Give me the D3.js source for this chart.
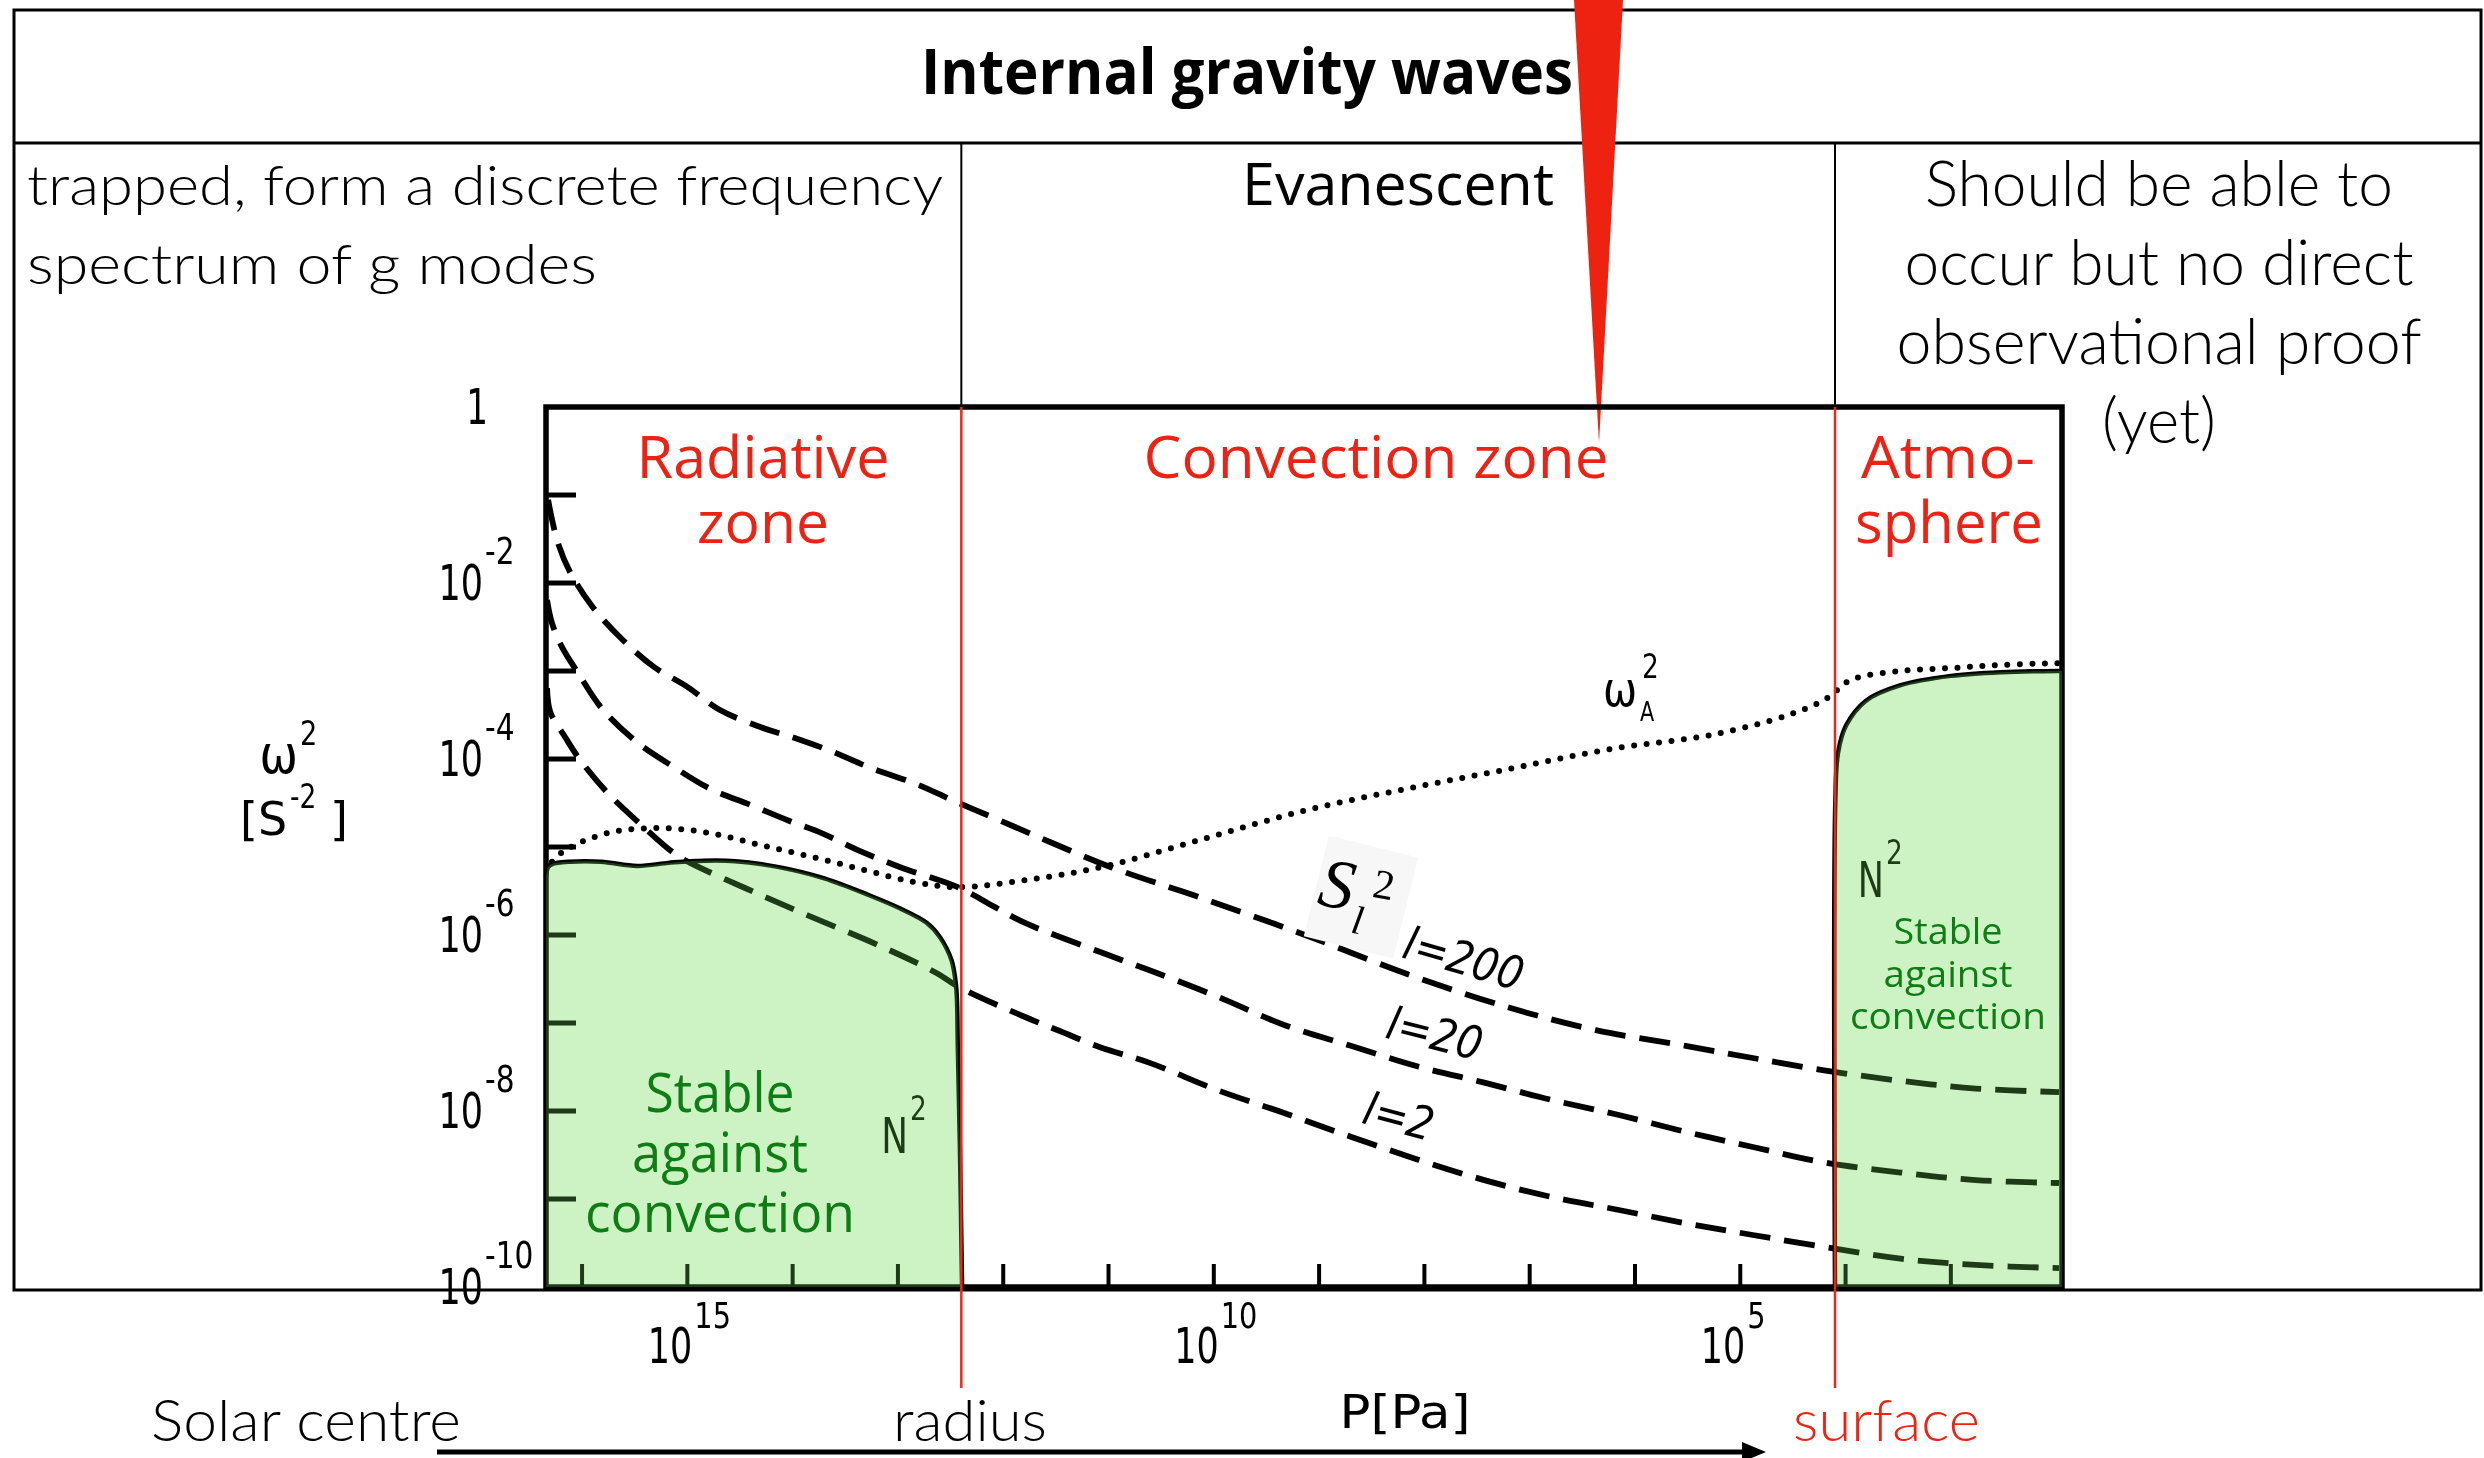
<!DOCTYPE html>
<html>
<head>
<meta charset="utf-8">
<title>Internal gravity waves</title>
<script src="https://cdn.jsdelivr.net/npm/d3@7/dist/d3.min.js"></script>
<style>
  html, body { margin: 0; padding: 0; background: #fff; }
  svg { display: block; }
</style>
</head>
<body>
<script>
// ---------------------------------------------------------------------------
// Data: pressure P [Pa] against squared frequency omega^2 [s^-2] in the Sun
// ---------------------------------------------------------------------------

const pressureDomain = [2.2e16, 88];          // centre (left) -> atmosphere (right)
const freqDomain = [1e-10, 1];

const pressureTicks = [1e16, 1e15, 1e14, 1e13, 1e12, 1e11, 1e10, 1e9, 1e8, 1e7, 1e6, 1e5, 1e4, 1e3];
const pressureLabels = [1e15, 1e10, 1e5];
const pressureLabelExps = ["15", "10", "5"];

const freqTicks = [1e-1, 1e-2, 1e-3, 1e-4, 1e-5, 1e-6, 1e-7, 1e-8, 1e-9];
const freqLabels = [1, 1e-2, 1e-4, 1e-6, 1e-8, 1e-10];
const freqLabelExps = [null, "-2", "-4", "-6", "-8", "-10"];

// zone boundaries
const convectionBaseP = 2.5e12;
const surfaceP = 1.26e4;

// Lamb frequency S_l^2 for l = 200, 20, 2   ([P, omega^2])
const lamb200 = [
  [2.1e16, 8.8e-2], [1.73e16, 3.1e-2], [1.3e16, 1.33e-2], [7.9e15, 5.3e-3], [4.1e15, 2.25e-3],
  [2.07e15, 1.11e-3], [1.0e15, 6.6e-4], [4.9e14, 3.6e-4], [2.0e14, 2.3e-4], [9.1e13, 1.7e-4],
  [4.1e13, 1.2e-4], [1.9e13, 8.1e-5], [7.0e12, 5.3e-5], [2.7e12, 3.2e-5], [1.07e12, 2.0e-5],
  [3.6e11, 1.14e-5], [9.5e10, 5.9e-6], [1.27e10, 2.6e-6], [1.36e9, 1.0e-6], [1.46e8, 3.6e-7],
  [1.64e7, 1.52e-7], [2.35e6, 8.3e-8], [3.3e5, 5.5e-8], [7.6e4, 4.0e-8], [1.6e4, 2.9e-8],
  [3.0e3, 2.2e-8], [580, 1.8e-8], [94, 1.64e-8]
];
const lamb20 = [
  [2.15e16, 6.4e-3], [1.93e16, 3.5e-3], [1.55e16, 1.87e-3], [1.09e16, 9.5e-4], [6.3e15, 3.6e-4],
  [2.9e15, 1.5e-4], [1.34e15, 8.1e-5], [6.1e14, 4.6e-5], [2.5e14, 3.0e-5], [1.1e14, 2.0e-5],
  [5.3e13, 1.44e-5], [2.4e13, 9.2e-6], [9.5e12, 5.9e-6], [2.7e12, 3.5e-6], [1.22e12, 2.1e-6],
  [6.2e11, 1.37e-6], [1.2e11, 6.4e-7], [3.9e10, 3.9e-7], [9.3e9, 2.0e-7], [2.15e9, 9.5e-8],
  [5.0e8, 5.5e-8], [1.15e8, 3.2e-8], [2.7e7, 2.1e-8], [6.1e6, 1.33e-8], [1.42e6, 9.0e-9],
  [3.3e5, 5.8e-9], [7.6e4, 3.9e-9], [1.6e4, 2.6e-9], [3.0e3, 2.0e-9], [580, 1.64e-9], [94, 1.52e-9]
];
const lamb2 = [
  [2.15e16, 6.4e-4], [2.0e16, 3.4e-4], [1.45e16, 1.78e-4], [1.09e16, 1.05e-4], [5.7e15, 4.1e-5],
  [2.9e15, 1.9e-5], [1.34e15, 8.5e-6], [9.4e14, 6.6e-6], [2.8e14, 3.4e-6], [8.1e13, 1.78e-6],
  [1.4e13, 7.3e-7], [4.3e12, 3.7e-7], [2.7e12, 2.6e-7], [6.2e11, 1.17e-7], [2.9e11, 8.1e-8],
  [1.2e11, 5.3e-8], [4.0e10, 3.5e-8], [9.3e9, 1.73e-8], [2.15e9, 9.5e-9], [5.0e8, 5.1e-9],
  [1.15e8, 2.8e-9], [2.7e7, 1.64e-9], [6.1e6, 1.05e-9], [1.42e6, 7.5e-10], [3.3e5, 5.3e-10],
  [7.6e4, 3.9e-10], [1.6e4, 2.85e-10], [3.0e3, 2.1e-10], [580, 1.78e-10], [94, 1.64e-10]
];

// acoustic cut-off frequency omega_A^2
const cutoff = [
  [1.93e16, 6.8e-6], [1.45e16, 9.2e-6], [5.7e15, 1.44e-5], [1.86e15, 1.64e-5], [6.1e14, 1.44e-5],
  [2.0e14, 1.05e-5], [6.5e13, 7.7e-6], [2.1e13, 5.5e-6], [7.0e12, 4.0e-6], [2.7e12, 3.5e-6],
  [6.2e11, 4.2e-6], [1.18e11, 5.9e-6], [1.27e10, 1.23e-5], [1.36e9, 2.6e-5], [1.46e8, 4.6e-5],
  [1.57e7, 7.7e-5], [1.69e6, 1.3e-4], [1.8e5, 1.9e-4], [3.4e4, 3.2e-4], [1.54e4, 4.8e-4],
  [8.9e3, 7.9e-4], [3.0e3, 1.0e-3], [1.0e3, 1.08e-3], [330, 1.17e-3], [94, 1.23e-3]
];

// buoyancy (Brunt-Vaisala) frequency N^2 where it is positive
const buoyancyCore = [
  [2.2e16, 4.6e-6], [2.1e16, 5.9e-6], [1.93e16, 6.4e-6], [1.3e16, 6.8e-6], [6.6e15, 6.8e-6],
  [3.0e15, 6.1e-6], [1.52e15, 6.6e-6], [9.4e14, 6.9e-6], [3.5e14, 6.9e-6], [1.35e14, 5.9e-6],
  [5.0e13, 4.4e-6], [1.9e13, 2.85e-6], [9.5e12, 2.0e-6], [5.3e12, 1.37e-6], [4.0e12, 9.5e-7],
  [3.1e12, 5.2e-7], [2.8e12, 2.6e-7], [2.7e12, 5.3e-8], [2.58e12, 3.9e-9], [2.46e12, 1e-10]
];
const buoyancyAtmos = [
  [1.26e4, 1e-10], [1.25e4, 3.4e-5], [1.18e4, 1.17e-4], [9.9e3, 2.4e-4], [6.4e3, 4.6e-4],
  [3.0e3, 6.9e-4], [1.0e3, 8.8e-4], [330, 9.7e-4], [94, 1.0e-3], [88, 1.0e-3]
];

// ---------------------------------------------------------------------------
// Layout
// ---------------------------------------------------------------------------
const W = 2484, H = 1458;
const plot = { left: 546, right: 2062, top: 407, bottom: 1287 };
const table = { left: 14, right: 2481, top: 10, bottom: 1290, titleRule: 143 };

const RED = "#ec2314";
const GREEN_TEXT = "#0d7d14";
const GREEN_FILL = "#c7eebe";     // lightened to #cdf2c4 by the overlay below
const GREEN_DARK = "#1d3b17";     // ink seen through the green wash
const SANS = '"Open Sans", "Noto Sans", Lato, sans-serif';
const LIGHT = 'Lato, "Open Sans", "Noto Sans", sans-serif';
const TECH = '"DejaVu Sans", "Liberation Sans", sans-serif';

const x = d3.scaleLog().domain(pressureDomain).range([plot.left, plot.right]);
const y = d3.scaleLog().domain(freqDomain).range([plot.bottom, plot.top]);

const line = d3.line()
  .x(d => x(d[0]))
  .y(d => y(d[1]))
  .curve(d3.curveCatmullRom.alpha(0.5));

const svg = d3.select("body").append("svg")
  .attr("width", W).attr("height", H)
  .attr("viewBox", `0 0 ${W} ${H}`);

svg.append("rect").attr("width", W).attr("height", H).attr("fill", "#fff");

function text(parent, s, o) {
  const t = parent.append("text")
    .attr("x", o.x).attr("y", o.y)
    .attr("font-family", o.family || SANS)
    .attr("font-size", o.size)
    .attr("font-weight", o.weight || 400)
    .attr("fill", o.fill || "#000")
    .attr("text-anchor", o.anchor || "start")
    .text(s);
  if (o.length) t.attr("textLength", o.length).attr("lengthAdjust", "spacingAndGlyphs");
  return t;
}

// ---------------------------------------------------------------------------
// Table frame
// ---------------------------------------------------------------------------
const xBase = x(convectionBaseP);
const xSurf = x(surfaceP);
const tableG = svg.append("g").attr("stroke", "#000").attr("fill", "none");
tableG.append("rect")
  .attr("x", table.left).attr("y", table.top)
  .attr("width", table.right - table.left).attr("height", table.bottom - table.top)
  .attr("stroke-width", 3);
tableG.append("line")
  .attr("x1", table.left).attr("x2", table.right)
  .attr("y1", table.titleRule).attr("y2", table.titleRule)
  .attr("stroke-width", 3);
[xBase, xSurf].forEach(xx => {
  tableG.append("line")
    .attr("x1", xx).attr("x2", xx)
    .attr("y1", table.titleRule).attr("y2", plot.top)
    .attr("stroke-width", 2);
});

// pointer wedge from the top of the page into the convection zone
svg.append("path")
  .attr("d", "M1574,0 L1623,0 L1599,443 Z")
  .attr("fill", "#ee2210");

// ---------------------------------------------------------------------------
// Stable regions (green wash underneath the ink)
// ---------------------------------------------------------------------------
function areaPath(points, closeP) {
  const curve = line(points);
  const first = points[0], last = points[points.length - 1];
  if (closeP === "core") {
    return `M${x(pressureDomain[0])},${y(freqDomain[0])}L` + curve.slice(1) + "Z";
  }
  return curve + `L${x(last[0])},${y(freqDomain[0])}L${x(first[0])},${y(freqDomain[0])}Z`;
}
const coreArea = areaPath(buoyancyCore, "core");
const atmosArea = areaPath(buoyancyAtmos, "atmos");

svg.append("path").attr("d", coreArea).attr("fill", GREEN_FILL);
svg.append("path").attr("d", atmosArea).attr("fill", GREEN_FILL);

// ---------------------------------------------------------------------------
// Plot frame and ticks
// ---------------------------------------------------------------------------
const frame = svg.append("g").attr("stroke", "#000").attr("fill", "none");
frame.append("rect")
  .attr("x", plot.left).attr("y", plot.top)
  .attr("width", plot.right - plot.left).attr("height", plot.bottom - plot.top)
  .attr("stroke-width", 5.5);

frame.selectAll(".ytick").data(freqTicks).join("line")
  .attr("x1", plot.left).attr("x2", plot.left + 30)
  .attr("y1", d => y(d)).attr("y2", d => y(d))
  .attr("stroke-width", 5);

frame.selectAll(".xtick").data(pressureTicks).join("line")
  .attr("x1", d => x(d)).attr("x2", d => x(d))
  .attr("y1", plot.bottom).attr("y2", plot.bottom - 23)
  .attr("stroke-width", 4);

// ---------------------------------------------------------------------------
// Curves
// ---------------------------------------------------------------------------
const curves = svg.append("g").attr("fill", "none").attr("stroke", "#000");
[lamb200, lamb20, lamb2].forEach(series => {
  curves.append("path").attr("d", line(series))
    .attr("stroke-width", 5.8)
    .attr("stroke-dasharray", "31 14");
});
curves.append("path").attr("d", line(cutoff))
  .attr("stroke-width", 6)
  .attr("stroke-linecap", "round")
  .attr("stroke-dasharray", "0 12.5");

curves.append("path").attr("d", line(buoyancyCore)).attr("stroke-width", 4.5);
curves.append("path").attr("d", line(buoyancyAtmos)).attr("stroke-width", 4.5);

// ---------------------------------------------------------------------------
// Technical-lettering labels (ink)
// ---------------------------------------------------------------------------
function power(parent, ax, ay, base, exp, o) {
  parent.append("text")
    .attr("transform", `translate(${ax - 1},${ay}) scale(${o.bs},1)`)
    .attr("text-anchor", "end")
    .attr("font-family", TECH).attr("font-size", o.bf).attr("fill", o.fill || "#000")
    .text(base);
  if (exp) {
    parent.append("text")
      .attr("transform", `translate(${ax + 1},${ay - o.rise}) scale(${o.ss},1)`)
      .attr("font-family", TECH).attr("font-size", o.sf).attr("fill", o.fill || "#000")
      .text(exp);
  }
}

const ink = svg.append("g");

// y tick labels
freqLabels.forEach((v, i) => {
  const e = freqLabelExps[i];
  if (e === null) power(ink, 489, y(v) + 17, "1", null, { bf: 49, bs: 0.7 });
  else power(ink, 484, y(v) + 17, "10", e, { bf: 50, bs: 0.7, sf: 37, ss: 0.8, rise: 36 });
});

// x tick labels
pressureLabels.forEach((v, i) => {
  power(ink, x(v) + 6, 1363, "10", pressureLabelExps[i], { bf: 50, bs: 0.7, sf: 36, ss: 0.8, rise: 35 });
});

// axis titles
power(ink, 299, 773, "\u03c9", "2", { bf: 54, bs: 0.85, sf: 34, ss: 0.8, rise: 28 });
ink.append("text")
  .attr("transform", "translate(240,835)")
  .attr("font-family", TECH).attr("font-size", 46).text("[S");
ink.append("text")
  .attr("transform", "translate(290,808) scale(0.8,1)")
  .attr("font-family", TECH).attr("font-size", 33).text("-2");
ink.append("text")
  .attr("transform", "translate(330,835)")
  .attr("font-family", TECH).attr("font-size", 46).text("]");

text(ink, "P[Pa]", { x: 1405, y: 1428, size: 46, family: TECH, anchor: "middle", length: 131 });

// N^2 labels
power(ink, 909, 1153, "N", "2", { bf: 49, bs: 0.73, sf: 33, ss: 0.8, rise: 33 });
power(ink, 1885, 897, "N", "2", { bf: 50, bs: 0.7, sf: 33, ss: 0.8, rise: 33 });

// omega_A^2
ink.append("text").attr("transform", "translate(1603,706) scale(0.85,1)")
  .attr("font-family", TECH).attr("font-size", 48).text("\u03c9");
ink.append("text").attr("transform", "translate(1640,721) scale(0.8,1)")
  .attr("font-family", TECH).attr("font-size", 26).text("A");
ink.append("text").attr("transform", "translate(1642,678) scale(0.8,1)")
  .attr("font-family", TECH).attr("font-size", 33).text("2");

// S_l^2 symbol on its light patch
ink.append("rect")
  .attr("x", 1361 - 46).attr("y", 897 - 52).attr("width", 92).attr("height", 104)
  .attr("transform", "rotate(14,1361,897)")
  .attr("fill", "#f7f7f7");
const symT = ink.append("g").attr("transform", "rotate(10,1361,897)")
  .attr("font-family", '"Liberation Serif", "DejaVu Serif", serif');
symT.append("text").attr("x", 1318).attr("y", 912).attr("font-size", 70)
  .attr("font-style", "italic").text("S");
symT.append("text").attr("x", 1371).attr("y", 895).attr("font-size", 42).text("2");
symT.append("text").attr("x", 1356).attr("y", 934).attr("font-size", 40)
  .attr("font-style", "italic").text("l");

// degree labels along the dashed curves
[["l=200", 1464, 958, 16], ["l=20", 1435, 1033, 14], ["l=2", 1399, 1116, 15]].forEach(([s, cx, cy, rot]) => {
  ink.append("text")
    .attr("transform", `translate(${cx},${cy}) rotate(${rot}) scale(0.88,1)`)
    .attr("text-anchor", "middle").attr("dy", "0.36em")
    .attr("font-family", TECH).attr("font-style", "italic").attr("font-size", 46)
    .text(s);
});

// ---------------------------------------------------------------------------
// Green wash on top: ink inside stable regions turns dark green
// ---------------------------------------------------------------------------
svg.append("path").attr("d", coreArea).attr("fill", GREEN_DARK).style("mix-blend-mode", "screen");
svg.append("path").attr("d", atmosArea).attr("fill", GREEN_DARK).style("mix-blend-mode", "screen");

// ---------------------------------------------------------------------------
// Zone boundaries (red)
// ---------------------------------------------------------------------------
[xBase, xSurf].forEach(xx => {
  svg.append("line")
    .attr("x1", xx).attr("x2", xx)
    .attr("y1", plot.top).attr("y2", 1388)
    .attr("stroke", "#e8281c").attr("stroke-width", 2.5);
});

// ---------------------------------------------------------------------------
// Text
// ---------------------------------------------------------------------------
const words = svg.append("g");

text(words, "Internal gravity waves", { x: 1247, y: 94, size: 62, weight: 700, anchor: "middle", length: 652 });

text(words, "trapped, form a discrete frequency", { x: 27, y: 205, size: 56, weight: 300, family: LIGHT, length: 916 });
text(words, "spectrum of g modes", { x: 27, y: 284, size: 56, weight: 300, family: LIGHT, length: 570 });
text(words, "Evanescent", { x: 1398, y: 205, size: 58, anchor: "middle", length: 312 });

[["Should be able to", 206, 468], ["occur but no direct", 285, 509],
 ["observational proof", 364, 525], ["(yet)", 443, 114]].forEach(([s, yy, len]) => {
  text(words, s, { x: 2159, y: yy, size: 64, weight: 300, family: LIGHT, anchor: "middle", length: len });
});

// zone names
text(words, "Radiative", { x: 763, y: 478, size: 58, fill: RED, anchor: "middle", length: 253 });
text(words, "zone", { x: 763, y: 543, size: 58, fill: RED, anchor: "middle", length: 132 });
text(words, "Convection zone", { x: 1376, y: 478, size: 58, fill: RED, anchor: "middle", length: 465 });
text(words, "Atmo-", { x: 1948, y: 478, size: 58, fill: RED, anchor: "middle", length: 174 });
text(words, "sphere", { x: 1949, y: 543, size: 58, fill: RED, anchor: "middle", length: 188 });

// stability notes
[["Stable", 1112, 149], ["against", 1172, 176], ["convection", 1232, 270]].forEach(([s, yy, len]) => {
  text(words, s, { x: 720, y: yy, size: 55, fill: GREEN_TEXT, anchor: "middle", length: len });
});
[["Stable", 944, 109], ["against", 987, 129], ["convection", 1029, 196]].forEach(([s, yy, len]) => {
  text(words, s, { x: 1948, y: yy, size: 37, fill: GREEN_TEXT, anchor: "middle", length: len });
});

// bottom annotations
text(words, "Solar centre", { x: 151, y: 1441, size: 58, weight: 300, family: LIGHT, length: 310 });
text(words, "radius", { x: 893, y: 1441, size: 58, weight: 300, family: LIGHT, length: 154 });
text(words, "surface", { x: 1793, y: 1441, size: 58, weight: 300, family: LIGHT, fill: RED, length: 187 });

// direction arrow centre -> surface
svg.append("line")
  .attr("x1", 437).attr("x2", 1746).attr("y1", 1452).attr("y2", 1452)
  .attr("stroke", "#000").attr("stroke-width", 5);
svg.append("path").attr("d", "M1742,1442 L1766,1452 L1742,1462 Z").attr("fill", "#000");
</script>
</body>
</html>
